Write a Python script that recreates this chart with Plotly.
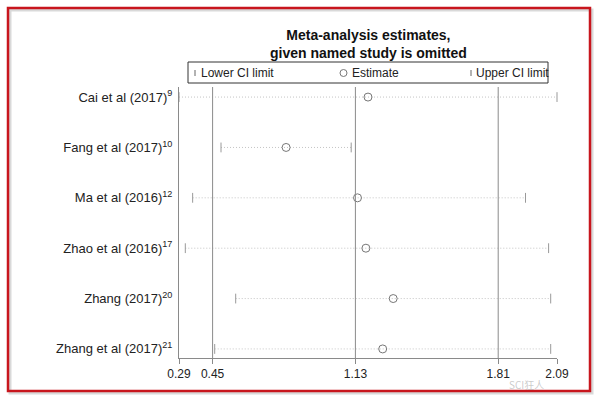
import plotly.graph_objects as go

studies = ["Cai et al (2017)<sup>9</sup>", "Fang et al (2017)<sup>10</sup>", "Ma et al (2016)<sup>12</sup>",
           "Zhao et al (2016)<sup>17</sup>", "Zhang (2017)<sup>20</sup>", "Zhang et al (2017)<sup>21</sup>"]
lower = [0.29, 0.49, 0.355, 0.32, 0.56, 0.46]
estimate = [1.19, 0.80, 1.14, 1.18, 1.31, 1.26]
upper = [2.09, 1.11, 1.94, 2.05, 2.06, 2.06]
tick_vals = [0.29, 0.45, 1.13, 1.81, 2.09]
tick_labels = ["0.29", "0.45", "1.13", "1.81", "2.09"]
ref_lines = [0.45, 1.13, 1.81]

n = len(studies)
ypos = [n - i for i in range(n)]

W, H = 600, 401
L, R, T, B = 179, 43, 87, 43
pw, ph = W - L - R, H - T - B


def px(x):
    return (x - L) / pw


def py(y):
    return (H - B - y) / ph


fig = go.Figure()

# dotted CI lines
for lo, hi, y in zip(lower, upper, ypos):
    fig.add_trace(go.Scatter(x=[lo, hi], y=[y, y], mode="lines",
                             line=dict(color="#c4c4c4", width=1, dash="1px,2px"),
                             showlegend=False, hoverinfo="skip"))

fig.add_trace(go.Scatter(x=lower, y=ypos, mode="markers",
                         marker=dict(symbol="line-ns-open", size=7, color="#999",
                                     line=dict(color="#999", width=1)),
                         showlegend=False, cliponaxis=False))
fig.add_trace(go.Scatter(x=upper, y=ypos, mode="markers",
                         marker=dict(symbol="line-ns-open", size=7, color="#999",
                                     line=dict(color="#999", width=1)),
                         showlegend=False, cliponaxis=False))
fig.add_trace(go.Scatter(x=estimate, y=ypos, mode="markers",
                         marker=dict(symbol="circle-open", size=8, color="#777",
                                     line=dict(color="#777", width=1)),
                         showlegend=False, cliponaxis=False))

shapes = []
for v in ref_lines:
    shapes.append(dict(type="line", xref="x", yref="paper", x0=v, x1=v, y0=0, y1=1,
                       line=dict(color="#8a8a8a", width=1)))

# legend box
shapes.append(dict(type="rect", xref="paper", yref="paper", x0=px(188), x1=px(548), y0=py(83), y1=py(62),
                   line=dict(color="#333", width=1), fillcolor="rgba(0,0,0,0)"))
ly = py(73)
for gx in [195, 471]:
    shapes.append(dict(type="line", xref="paper", yref="paper", x0=px(gx), x1=px(gx), y0=py(76), y1=py(70),
                       line=dict(color="#666", width=1)))
shapes.append(dict(type="circle", xref="paper", yref="paper", x0=px(340), x1=px(347), y0=py(76.5), y1=py(69.5),
                   line=dict(color="#777", width=1)))

# outer red frame
shapes.append(dict(type="rect", xref="paper", yref="paper", x0=px(10), x1=px(592), y0=py(393), y1=py(10),
                   line=dict(color="#d9d9d9", width=3)))
shapes.append(dict(type="rect", xref="paper", yref="paper", x0=px(8), x1=px(590), y0=py(391), y1=py(8),
                   line=dict(color="#c8161d", width=2.5)))

annotations = [
    dict(text="<b>Meta-analysis estimates,<br>given named study is omitted</b>", xref="paper", yref="paper",
         x=px(368), y=py(43.5), showarrow=False, xanchor="center", yanchor="middle",
         font=dict(size=14, color="#111", family="Arial"), align="center"),
    dict(text="Lower CI limit", xref="paper", yref="paper", x=px(199), y=ly, showarrow=False,
         xanchor="left", yanchor="middle", font=dict(size=12, color="#222", family="Arial")),
    dict(text="Estimate", xref="paper", yref="paper", x=px(350), y=ly, showarrow=False,
         xanchor="left", yanchor="middle", font=dict(size=12, color="#222", family="Arial")),
    dict(text="Upper CI limit", xref="paper", yref="paper", x=px(474), y=ly, showarrow=False,
         xanchor="left", yanchor="middle", font=dict(size=12, color="#222", family="Arial")),
    dict(text="SCI狂人", xref="paper", yref="paper", x=px(526), y=py(384), showarrow=False,
         xanchor="center", yanchor="middle",
         font=dict(size=10, color="rgba(160,160,160,0.55)", family="Noto Sans CJK SC")),
]

fig.update_layout(
    width=W, height=H,
    margin=dict(l=L, r=R, t=T, b=B),
    paper_bgcolor="white", plot_bgcolor="white",
    shapes=shapes, annotations=annotations,
    font=dict(family="Arial", size=12, color="#222"),
    xaxis=dict(range=[tick_vals[0], tick_vals[-1]], tickvals=tick_vals, ticktext=tick_labels,
               showgrid=False, zeroline=False, showline=True, linecolor="#8a8a8a", linewidth=1,
               ticks="outside", ticklen=5, tickcolor="#8a8a8a", tickfont=dict(size=12, color="#222")),
    yaxis=dict(range=[0.82, 6.2], tickvals=ypos, ticktext=studies, showgrid=False, zeroline=False,
               showline=True, linecolor="#8a8a8a", linewidth=1, ticks="", ticklabelstandoff=3,
               tickfont=dict(size=13, color="#222")),
)

fig.write_html("out.html")
